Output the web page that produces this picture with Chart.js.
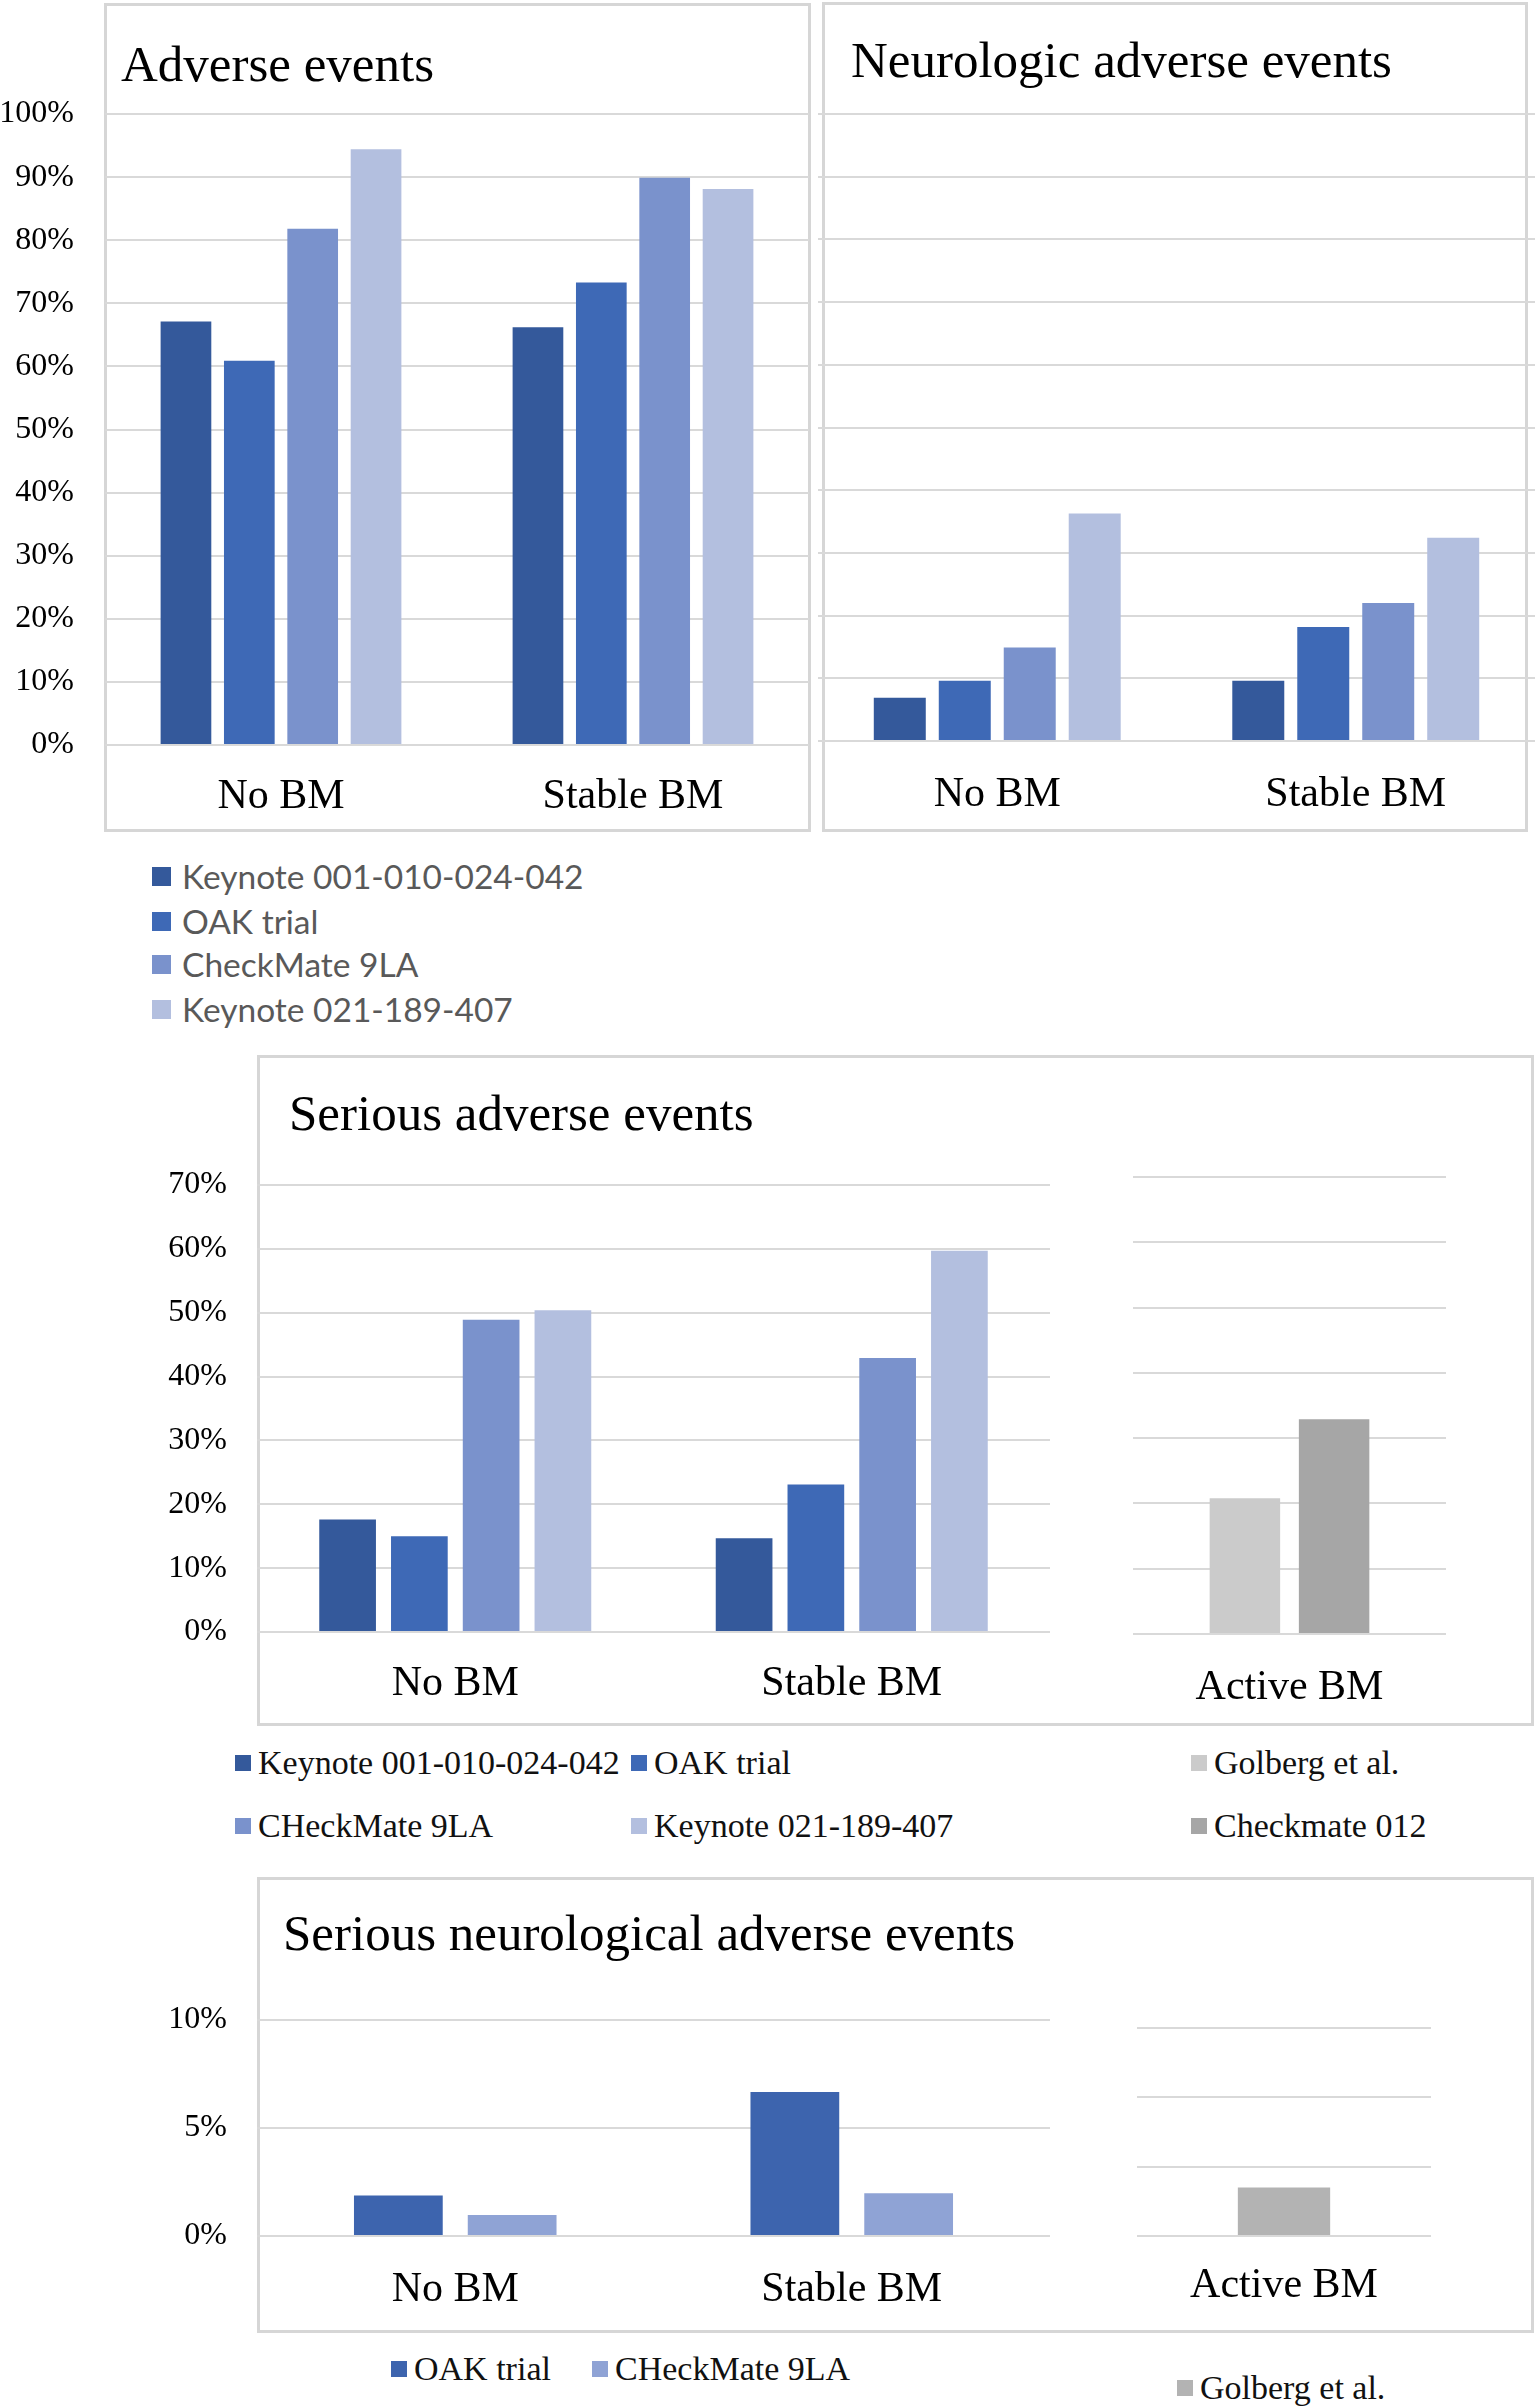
<!DOCTYPE html>
<html>
<head>
<meta charset="utf-8">
<script src="https://cdn.jsdelivr.net/npm/chart.js@4/dist/chart.umd.min.js"></script>
<style>
body{margin:0;background:#fff;width:1535px;height:2406px;position:relative;overflow:hidden;font-family:"Liberation Serif","Times New Roman",serif;}
.box{position:absolute;border:3px solid #d6d6d6;box-sizing:border-box;}
.title{position:absolute;font-size:51px;line-height:51px;color:#000;white-space:nowrap;}
canvas{position:absolute;}
.li{position:absolute;display:flex;align-items:center;white-space:nowrap;}
.li span{display:inline-block;flex:none;}
</style>
</head>
<body>
<div class="box" style="left:104px;top:3px;width:707px;height:829px"></div>
<div class="box" style="left:822px;top:2px;width:706px;height:830px"></div>
<div class="box" style="left:257px;top:1055px;width:1277px;height:671px"></div>
<div class="box" style="left:257px;top:1877px;width:1277px;height:456px"></div>

<div class="title" style="left:121px;top:39px">Adverse events</div>
<div class="title" style="left:851px;top:35px">Neurologic adverse events</div>
<div class="title" style="left:289px;top:1088px">Serious adverse events</div>
<div class="title" style="left:283px;top:1908px">Serious neurological adverse events</div>

<canvas id="c1" width="809" height="830" style="left:0;top:0"></canvas>
<canvas id="c2" width="717" height="830" style="left:818px;top:0"></canvas>
<canvas id="c3" width="1050" height="666" style="left:0;top:1058px"></canvas>
<canvas id="c3b" width="313" height="666" style="left:1133px;top:1058px"></canvas>
<canvas id="c4" width="1050" height="451" style="left:0;top:1879px"></canvas>
<canvas id="c4b" width="294" height="451" style="left:1137px;top:1879px"></canvas>

<div id="legends"></div>

<script>
// categories
const categories=["No BM","Stable BM"];
const activeCat=["Active BM"];

// series
const names=["Keynote 001-010-024-042","OAK trial","CheckMate 9LA","Keynote 021-189-407"];
const names2=["Keynote 001-010-024-042","OAK trial","CHeckMate 9LA","Keynote 021-189-407"];
const colors=["#34599b","#3e69b6","#7a92cc","#b3bfdf"];
const activeNames=["Golberg et al.","Checkmate 012"];
const activeColors=["#cbcbcb","#a6a6a6"];
const neuroNames=["OAK trial","CHeckMate 9LA"];
const neuroColors=["#3d64ae","#8fa3d5"];
const golbergNeuroColor="#b3b3b3";

// Adverse events (%), [No BM, Stable BM]
const aeKeynote001=[67.1,66.2];
const aeOak=[60.9,73.3];
const aeCm9la=[81.8,89.9];
const aeKeynote021=[94.4,88.1];

// Neurologic adverse events (%)
const naeKeynote001=[6.9,9.6];
const naeOak=[9.6,18.2];
const naeCm9la=[14.9,22.0];
const naeKeynote021=[36.3,32.4];

// Serious adverse events (%)
const saeKeynote001=[17.6,14.7];
const saeOak=[15.0,23.1];
const saeCm9la=[48.9,42.9];
const saeKeynote021=[50.4,59.7];
const saeGolberg=[20.8];
const saeCm012=[32.9];

// Serious neurological adverse events (%)
const snaeOak=[1.87,6.67];
const snaeCm9la=[0.97,1.98];
const snaeGolberg=[3.5];

// tick labels
const pct=v=>v+"%";

function barChart(id,labels,sets,o){
  return new Chart(document.getElementById(id),{
    type:"bar",
    data:{labels,datasets:sets.map(s=>({label:s[0],data:s[1],backgroundColor:s[2],barPercentage:o.bp,categoryPercentage:o.cp}))},
    options:{
      responsive:false,animation:false,
      layout:{padding:{top:o.top,right:0,left:0,bottom:0}},
      plugins:{legend:{display:false},tooltip:{enabled:false}},
      scales:{
        x:{grid:{display:false,drawTicks:false},border:{display:false},
          ticks:{font:{family:"Liberation Serif",size:42},color:"#000",padding:o.xpad,maxRotation:0},
          afterFit:a=>{a.height=o.xh;}},
        y:{min:0,max:o.max,border:{display:false},
          grid:{color:"#d9d9d9",lineWidth:2,drawTicks:false},
          ticks:{stepSize:o.step,display:o.yw>0,padding:o.ypad||0,font:{family:"Liberation Serif",size:32},color:"#000",callback:pct},
          afterFit:a=>{a.width=o.yw;}}
      }
    }
  });
}

barChart("c1",categories,[[names[0],aeKeynote001,colors[0]],[names[1],aeOak,colors[1]],[names[2],aeCm9la,colors[2]],[names[3],aeKeynote021,colors[3]]],
  {top:114,xh:85,yw:105,ypad:31,xpad:27,bp:0.8,cp:0.72,max:100,step:10});
barChart("c2",categories,[[names[0],naeKeynote001,colors[0]],[names[1],naeOak,colors[1]],[names[2],naeCm9la,colors[2]],[names[3],naeKeynote021,colors[3]]],
  {top:114,xh:89,yw:0,xpad:29,bp:0.8,cp:0.725,max:100,step:10});
barChart("c3",categories,[[names2[0],saeKeynote001,colors[0]],[names2[1],saeOak,colors[1]],[names2[2],saeCm9la,colors[2]],[names2[3],saeKeynote021,colors[3]]],
  {top:127,xh:92,yw:257,ypad:30,xpad:27,bp:0.79,cp:0.724,max:70,step:10});
barChart("c3b",activeCat,[[activeNames[0],saeGolberg,activeColors[0]],[activeNames[1],saeCm012,activeColors[1]]],
  {top:119,xh:90,yw:0,xpad:29,bp:0.79,cp:0.57,max:70,step:10});
barChart("c4",categories,[[neuroNames[0],snaeOak,neuroColors[0]],[neuroNames[1],snaeCm9la,neuroColors[1]]],
  {top:141,xh:94,yw:257,ypad:30,xpad:29,bp:0.78,cp:0.574,max:10,step:5});
barChart("c4b",activeCat,[[activeNames[0],snaeGolberg,golbergNeuroColor]],
  {top:149,xh:94,yw:0,xpad:25,bp:0.785,cp:0.4,max:15,step:5});

// legends: [label, color, left, centerY, swatch, gap, font, text colour]
const sans='33.5px Lato', serif='34px "Liberation Serif"';
const legendItems=[
  [names[0],colors[0],152,876,19,11,sans,"#595959"],
  [names[1],colors[1],152,921,19,11,sans,"#595959"],
  [names[2],colors[2],152,964,19,11,sans,"#595959"],
  [names[3],colors[3],152,1009,19,11,sans,"#595959"],
  [names2[0],colors[0],235,1763,16,7,serif,"#111"],
  [names2[1],colors[1],631,1763,16,7,serif,"#111"],
  [activeNames[0],activeColors[0],1191,1763,16,7,serif,"#111"],
  [names2[2],colors[2],235,1826,16,7,serif,"#111"],
  [names2[3],colors[3],631,1826,16,7,serif,"#111"],
  [activeNames[1],activeColors[1],1191,1826,16,7,serif,"#111"],
  [neuroNames[0],neuroColors[0],391,2369,16,7,serif,"#111"],
  [neuroNames[1],neuroColors[1],592,2369,16,7,serif,"#111"],
  [activeNames[0],golbergNeuroColor,1177,2388,16,7,serif,"#111"]
];
const lg=document.getElementById("legends");
legendItems.forEach(it=>{
  const d=document.createElement("div");
  d.className="li";
  d.style.cssText=`left:${it[2]}px;top:${it[3]-25}px;height:50px;font:${it[6]};color:${it[7]}`;
  d.innerHTML=`<span style="width:${it[4]}px;height:${it[4]}px;background:${it[1]};margin-right:${it[5]}px"></span>${it[0]}`;
  lg.appendChild(d);
});
</script>
</body>
</html>
